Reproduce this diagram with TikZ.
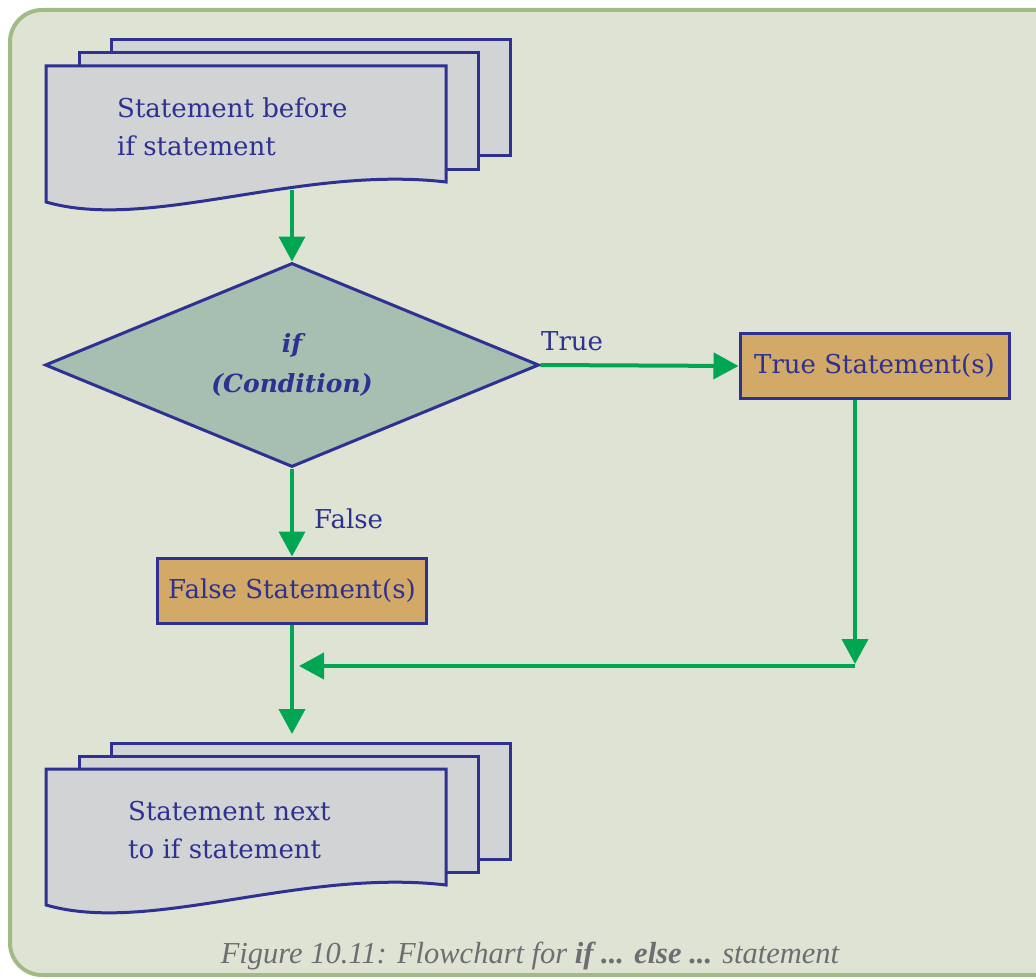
\documentclass[tikz,border=0pt]{standalone}
\usepackage{fontspec}
\setmainfont{DejaVu Serif}
\newfontfamily\capfont{Liberation Serif}
\usetikzlibrary{shapes.geometric,arrows.meta}
\definecolor{bgc}{HTML}{DFE3D3}
\definecolor{framec}{HTML}{A2BA85}
\definecolor{inkblue}{HTML}{2E3192}
\definecolor{docfill}{HTML}{D1D3D4}
\definecolor{diafill}{HTML}{A6BFB1}
\definecolor{boxfill}{HTML}{D2A967}
\definecolor{flowgreen}{HTML}{00A651}
\definecolor{capgray}{HTML}{6D6E71}
\tikzset{
  sheet/.style={draw=inkblue, line width=3pt, fill=docfill},
  docstack/.pic={
    \draw[sheet] (111,40) rectangle (510,156);
    \draw[sheet] (79,53) rectangle (478,169);
    \draw[sheet] (46,66) -- (446,66) -- (446,182) .. controls (300,165) and (150,232) .. (46,202) -- cycle;
  },
  flow/.style={draw=flowgreen, line width=4pt, -{Triangle[length=25pt,width=26pt]}},
  stmtbox/.style={draw=inkblue, line width=3pt, fill=boxfill, minimum width=269pt, minimum height=65pt, inner sep=0pt, text=inkblue, font=\fontsize{26}{31}\selectfont},
  decision/.style={diamond, aspect=2.5, draw=inkblue, line width=3pt, fill=diafill, minimum width=494pt, minimum height=204pt, inner sep=0pt, text=inkblue, align=center, font=\bfseries\itshape\fontsize{25}{40}\selectfont},
  doctext/.style={anchor=base west, align=left, text=inkblue, inner sep=0pt, font=\fontsize{26}{38}\selectfont},
  flowlabel/.style={anchor=base west, text=inkblue, inner sep=0pt, font=\fontsize{26}{31}\selectfont},
}
\begin{document}
\begin{tikzpicture}[x=1pt,y=-1pt]
\useasboundingbox (0,0) rectangle (1036,979);
\clip (0,0) rectangle (1036,979);
\draw[line width=4pt, draw=framec, fill=bgc, rounded corners=32pt] (10,10) rectangle (1090,975);

% connectors under the document stacks
\coordinate (d1b) at (292,190);
\coordinate (d2t) at (292,734);
\coordinate (jr) at (855,664);
\coordinate (jl) at (299,666);
\coordinate (jrs) at (855,666);

\node[decision] (dia) at (292,365) {if\\(Condition)};
\node[stmtbox] (tbox) at (874.5,366) {True Statement(s)};
\node[stmtbox] (fbox) at (292,590.5) {False Statement(s)};

\draw[flow] (d1b) -- (dia.north);
\draw[flow] (dia.east) -- (tbox.west);
\draw[flow] (dia.south) -- (fbox.north);
\draw[flow] (jr |- tbox.south) -- (jr);
\draw[flow] (jrs) -- (jl);
\draw[flow] (fbox.south) -- (d2t);

\node[flowlabel] (tlab) at (541,350) {True};
\node[flowlabel] (flab) at (314,528) {False};

\pic at (0,0) {docstack};
\pic at (0,703) {docstack};
\node[doctext] (t1) at (117,155) {Statement before\\if statement};
\node[doctext] (t2) at (128,858) {Statement next\\to if statement};

\node[anchor=base, inner sep=0pt, text=capgray, font=\capfont\itshape\fontsize{30.5}{34}\selectfont] (cap) at (530,963) {Figure 10.11: Flowchart for \textbf{if ... else ...} statement};
\end{tikzpicture}
\end{document}
